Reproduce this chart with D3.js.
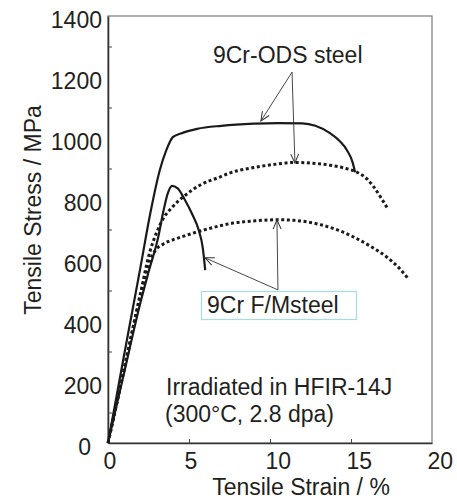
<!DOCTYPE html>
<html>
<head>
<meta charset="utf-8">
<script src="https://cdn.jsdelivr.net/npm/d3@7"></script>
<style>
  body { margin: 0; background: #fff; }
  text { font-family: "Liberation Sans", Arial, sans-serif; fill: #231f20; }
</style>
</head>
<body>
<svg id="chart" width="457" height="502"></svg>
<script>
// strain (%) / stress (MPa)
const odsSolid = [
    [0, 0], [1.0, 290], [2.0, 575], [2.6, 750], [3.2, 895], [3.6, 960], [4.0, 1003],
    [4.5, 1015], [5.5, 1030], [7, 1040], [9, 1047], [10.5, 1049], [12, 1048],
    [12.8, 1040], [13.7, 1016], [14.3, 990], [14.75, 960], [15.1, 920], [15.25, 888]
];
const odsDotted = [
    [0, 0], [1, 245], [2, 490], [2.6, 630], [3.0, 690], [3.4, 735], [4.0, 775],
    [4.6, 805], [5.7, 846], [6.9, 872], [7.5, 885], [9, 903], [10.5, 915], [11.5, 920],
    [12.5, 918], [13.7, 911], [14.7, 900], [15.4, 887], [16.0, 865], [16.4, 840],
    [16.9, 800], [17.3, 765]
];
const fmSolid = [
    [0, 0], [1.0, 232], [2.0, 460], [2.5, 560], [3.1, 675], [3.4, 755], [3.7, 820],
    [3.95, 843], [4.3, 835], [4.75, 797], [5.2, 750], [5.6, 698], [5.85, 640], [6.0, 567]
];
const fmDotted = [
    [0, 0], [1, 240], [2, 480], [2.6, 600], [2.9, 630], [3.4, 652], [4.0, 666],
    [4.5, 675], [5.5, 692], [6.9, 712], [7.7, 721], [9, 728], [10.4, 732], [11.5, 730],
    [12.3, 725], [13.1, 716], [14.2, 698], [15.1, 677], [16.2, 645], [17.2, 610],
    [18.0, 572], [18.5, 541]
];

const yTickLabels = [0, 200, 400, 600, 800, 1000, 1200, 1400];
const yMinorTicks = [100, 300, 500, 700, 900, 1100, 1300];
const xTickLabels = [0, 5, 10, 15, 20];
const xInnerTicks = [5, 10, 15];

// annotation arrows: [from, to] in data units
const odsArrows = [
    [[11.36, 1216], [9.44, 1056]],
    [[11.36, 1216], [11.54, 918]]
];
const fmArrows = [
    [[10.49, 502], [10.43, 731]],
    [[10.49, 502], [5.99, 607]]
];

const MARGIN = {top: 16, right: 25, bottom: 59, left: 108};
const WIDTH = 457, HEIGHT = 502;
const FONT = 23;

const svg = d3.select('#chart');

const xScale = d3.scaleLinear()
    .domain([0, 20])
    .range([MARGIN.left, WIDTH - MARGIN.right]);
const yScale = d3.scaleLinear()
    .domain([0, 1400])
    .range([HEIGHT - MARGIN.bottom, MARGIN.top]);

// frame (top/right lighter)
svg.append('rect')
    .attr('x', xScale(0)).attr('y', yScale(1400))
    .attr('width', xScale(20) - xScale(0))
    .attr('height', yScale(0) - yScale(1400))
    .attr('fill', 'none').attr('stroke', '#7a7a7a').attr('stroke-width', 1.2);

// y axis labels
const yAxis = svg.append('g')
    .attr('transform', `translate(${xScale(0)},0)`)
    .call(d3.axisLeft(yScale).tickValues(yTickLabels).tickSize(0).tickPadding(6)
        .tickFormat(d3.format('d')));
yAxis.select('.domain').attr('stroke', '#333').attr('stroke-width', 1.6);
yAxis.selectAll('text')
    .attr('font-size', FONT)
    .attr('font-family', '"Liberation Sans", Arial, sans-serif')
    .attr('fill', '#231f20')
    .attr('y', 4)
    .attr('dx', d => d === 0 ? -11 : 0);

// y minor ticks inside
const yMinor = svg.append('g')
    .attr('transform', `translate(${xScale(0)},0)`)
    .call(d3.axisRight(yScale).tickValues(yMinorTicks).tickSize(4).tickFormat(''));
yMinor.select('.domain').remove();
yMinor.selectAll('line').attr('stroke', '#444');

// x axis labels
const xAxis = svg.append('g')
    .attr('transform', `translate(0,${yScale(0)})`)
    .call(d3.axisBottom(xScale).tickValues(xTickLabels).tickSize(0).tickPadding(10)
        .tickFormat(d3.format('d')));
xAxis.select('.domain').attr('stroke', '#333').attr('stroke-width', 1.6);
xAxis.selectAll('text')
    .attr('font-size', FONT)
    .attr('font-family', '"Liberation Sans", Arial, sans-serif')
    .attr('fill', '#231f20')
    .attr('text-anchor', 'start')
    .attr('dx', -5);

// x ticks inside
const xInner = svg.append('g')
    .attr('transform', `translate(0,${yScale(0)})`)
    .call(d3.axisTop(xScale).tickValues(xInnerTicks).tickSize(4).tickFormat(''));
xInner.select('.domain').remove();
xInner.selectAll('line').attr('stroke', '#444');

// axis titles
svg.append('text')
    .attr('x', 301)
    .attr('y', 495)
    .attr('text-anchor', 'middle')
    .attr('font-size', FONT)
    .text('Tensile Strain / %');

svg.append('text')
    .attr('transform', `translate(41, 210) rotate(-90)`)
    .attr('text-anchor', 'middle')
    .attr('font-size', FONT)
    .text('Tensile Stress / MPa');

// curves
const line = d3.line()
    .x(d => xScale(d[0]))
    .y(d => yScale(d[1]))
    .curve(d3.curveMonotoneX);

const curves = [
    {data: odsSolid, dash: null},
    {data: fmSolid, dash: null},
    {data: odsDotted, dash: '3 2.6'},
    {data: fmDotted, dash: '3 2.6'}
];

svg.append('g').selectAll('path')
    .data(curves)
    .join('path')
    .attr('d', d => line(d.data))
    .attr('fill', 'none')
    .attr('stroke', '#1a1a1a')
    .attr('stroke-width', d => d.dash ? 3 : 2.2)
    .attr('stroke-dasharray', d => d.dash)
    .attr('stroke-linejoin', 'round');

// arrow marker (open V)
svg.append('defs').append('marker')
    .attr('id', 'vhead')
    .attr('markerUnits', 'userSpaceOnUse')
    .attr('viewBox', '-10 -6 12 12')
    .attr('markerWidth', 12).attr('markerHeight', 12)
    .attr('refX', 0).attr('refY', 0)
    .attr('orient', 'auto')
    .append('path')
    .attr('d', 'M-9,-4 L0,0 L-9,4')
    .attr('fill', 'none')
    .attr('stroke', '#333')
    .attr('stroke-width', 1);

svg.append('g').selectAll('line')
    .data(odsArrows.concat(fmArrows))
    .join('line')
    .attr('x1', d => xScale(d[0][0])).attr('y1', d => yScale(d[0][1]))
    .attr('x2', d => xScale(d[1][0])).attr('y2', d => yScale(d[1][1]))
    .attr('stroke', '#333')
    .attr('stroke-width', 0.9)
    .attr('marker-end', 'url(#vhead)');

// labels
svg.append('text')
    .attr('x', xScale(6.48)).attr('y', yScale(1246))
    .attr('font-size', FONT)
    .text('9Cr-ODS steel');

svg.append('rect')
    .attr('x', 201.5).attr('y', 291.5)
    .attr('width', 155).attr('height', 28)
    .attr('fill', '#fff')
    .attr('stroke', '#a6dbe6')
    .attr('stroke-width', 1.2);
svg.append('text')
    .attr('x', 207).attr('y', 313)
    .attr('font-size', FONT)
    .text('9Cr F/Msteel');

svg.append('text')
    .attr('x', 166).attr('y', 395)
    .attr('font-size', FONT)
    .text('Irradiated in HFIR-14J');
svg.append('text')
    .attr('x', 165).attr('y', 422)
    .attr('font-size', FONT)
    .text('(300°C, 2.8 dpa)');
</script>
</body>
</html>
